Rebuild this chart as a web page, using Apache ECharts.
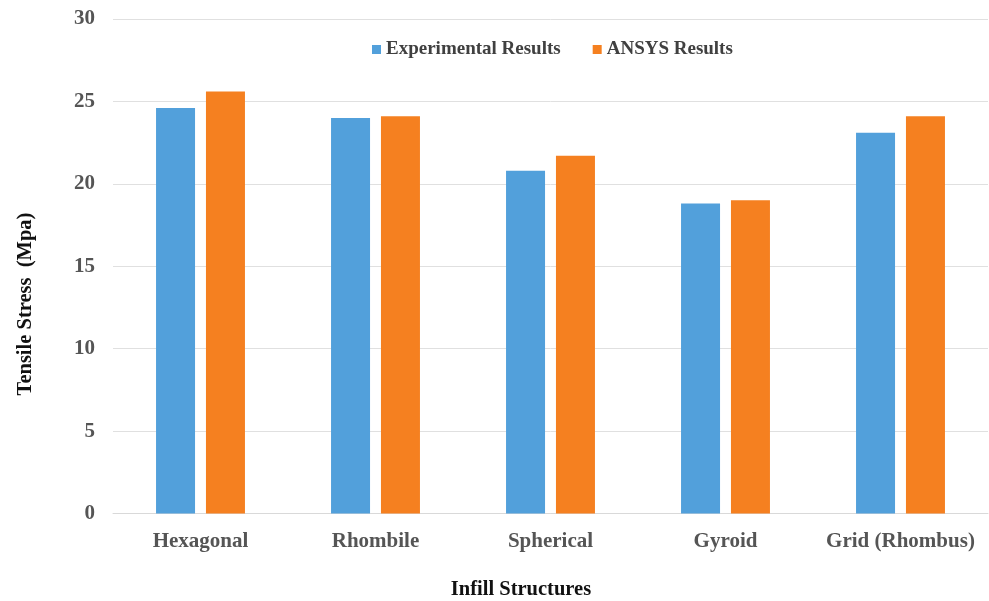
<!DOCTYPE html>
<html>
<head>
<meta charset="utf-8">
<script src="https://cdn.jsdelivr.net/npm/echarts@6/dist/echarts.min.js"></script>
<style>
  html, body { margin: 0; padding: 0; background: #fff; }
  #chart { width: 989px; height: 601px; }
</style>
</head>
<body>
<div id="chart"></div>
<script>
// Tensile stress by infill structure: experiment vs. ANSYS simulation
const categories = ['Hexagonal', 'Rhombile', 'Spherical', 'Gyroid', 'Grid (Rhombus)'];
const experimental = [24.6, 24.0, 20.8, 18.8, 23.1];
const ansys = [25.6, 24.1, 21.7, 19.0, 24.1];
const yTicks = [0, 5, 10, 15, 20, 25, 30];

const serif = '"Liberation Serif", "Times New Roman", serif';
const titleStyle = { fontFamily: serif, fontWeight: 'bold', fontSize: 20.5, fill: '#111' };

const chart = echarts.init(document.getElementById('chart'));
chart.setOption({
  animation: false,
  backgroundColor: '#ffffff',
  legend: {
    top: 35,
    left: 367,
    itemWidth: 9,
    itemHeight: 9,
    itemGap: 32,
    icon: 'rect',
    textStyle: { fontFamily: serif, fontWeight: 'bold', fontSize: 19, color: '#404040' },
    data: ['Experimental Results', 'ANSYS Results']
  },
  grid: { left: 113, right: 1, top: 19, height: 494.5 },
  xAxis: {
    type: 'category',
    data: categories,
    axisLine: { lineStyle: { color: '#d9d9d9', width: 1 } },
    axisTick: { show: false },
    axisLabel: { interval: 0, fontFamily: serif, fontWeight: 'bold', fontSize: 21, color: '#555', margin: 18 }
  },
  yAxis: {
    type: 'value',
    min: yTicks[0],
    max: yTicks[yTicks.length - 1],
    interval: 5,
    axisLine: { show: false },
    axisTick: { show: false },
    axisLabel: { fontFamily: serif, fontWeight: 'bold', fontSize: 21, color: '#555', margin: 18 },
    splitLine: { lineStyle: { color: '#e0e0e0', width: 1 } }
  },
  graphic: [
    {
      type: 'text',
      x: 521, y: 590,
      style: Object.assign({ text: 'Infill Structures', align: 'center', verticalAlign: 'middle' }, titleStyle)
    },
    {
      type: 'text',
      x: 26, y: 304,
      rotation: Math.PI / 2,
      style: Object.assign({ text: 'Tensile Stress  (Mpa)', align: 'center', verticalAlign: 'middle' }, titleStyle)
    }
  ],
  series: [
    {
      name: 'Experimental Results',
      type: 'bar',
      data: experimental,
      barWidth: 39,
      barGap: '28%',
      itemStyle: { color: '#52A0DB' }
    },
    {
      name: 'ANSYS Results',
      type: 'bar',
      data: ansys,
      barWidth: 39,
      barGap: '28%',
      itemStyle: { color: '#F58020' }
    }
  ]
});
</script>
</body>
</html>
